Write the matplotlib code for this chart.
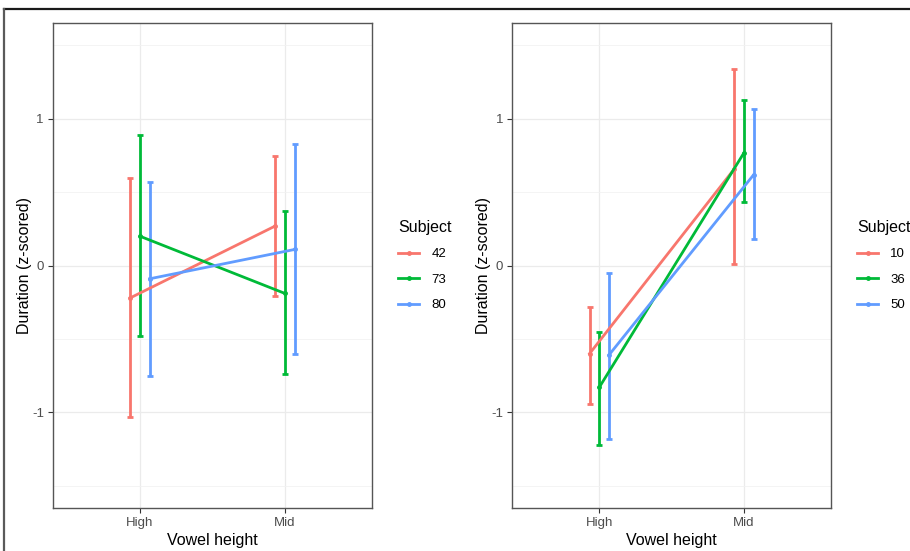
import matplotlib.pyplot as plt
from matplotlib.lines import Line2D
import numpy as np

plt.rcParams['font.family'] = ['Liberation Sans', 'DejaVu Sans']

# category axis
heights = ['High', 'Mid']

# left panel
subjects_left = ['42', '73', '80']
mean_left = {'42': [-0.22, 0.27], '73': [0.20, -0.19], '80': [-0.09, 0.11]}
low_left = {'42': [-1.03, -0.21], '73': [-0.48, -0.74], '80': [-0.75, -0.60]}
high_left = {'42': [0.60, 0.75], '73': [0.89, 0.37], '80': [0.57, 0.83]}

# right panel
subjects_right = ['10', '36', '50']
mean_right = {'10': [-0.60, 0.66], '36': [-0.83, 0.77], '50': [-0.61, 0.62]}
low_right = {'10': [-0.94, 0.01], '36': [-1.22, 0.43], '50': [-1.18, 0.18]}
high_right = {'10': [-0.28, 1.34], '36': [-0.45, 1.13], '50': [-0.05, 1.07]}

colors = ['#F8766D', '#00BA38', '#619CFF']
dodge = [-0.0667, 0.0, 0.0667]


def draw_panel(ax, subjects, means, lows, highs):
    x = np.arange(1, len(heights) + 1)
    for s, c, d in zip(subjects, colors, dodge):
        xs = x + d
        m = np.array(means[s])
        lo = np.array(lows[s])
        hi = np.array(highs[s])
        ax.errorbar(xs, m, yerr=[m - lo, hi - m], color=c, lw=2, capsize=2,
                    capthick=2, marker='o', markersize=2.5, label=s, zorder=3)
    ax.set_xlim(0.4, 2.6)
    ax.set_ylim(-1.65, 1.65)
    ax.set_xticks(x)
    ax.set_xticklabels(heights)
    ax.set_yticks([-1, 0, 1])
    ax.set_yticklabels(['-1', '0', '1'])
    ax.set_yticks([-1.5, -0.5, 0.5, 1.5], minor=True)
    ax.grid(True, which='major', color='#EBEBEB', lw=0.9, zorder=0)
    ax.grid(True, which='minor', axis='y', color='#F2F2F2', lw=0.6, zorder=0)
    ax.tick_params(which='minor', length=0)
    ax.tick_params(which='major', length=3.5, width=0.8, color='#333333',
                   labelsize=9.5, labelcolor='#4D4D4D', pad=3)
    for sp in ax.spines.values():
        sp.set_color('#555555')
        sp.set_linewidth(1.0)
    ax.set_axisbelow(True)
    ax.set_xlabel('Vowel height', fontsize=11.5, color='black', labelpad=3)
    ax.set_ylabel('Duration (z-scored)', fontsize=11.5, color='black', labelpad=0)
    handles = [Line2D([0], [0], color=c, lw=2, marker='o', markersize=2.5)
               for c in colors]
    leg = ax.legend(handles, subjects, title='Subject', loc='center left',
                    bbox_to_anchor=(1.045, 0.5), frameon=False, fontsize=9.5,
                    title_fontsize=11.5, handlelength=1.6, labelspacing=1.0,
                    handletextpad=0.9, alignment='left')
    for t in leg.get_texts():
        t.set_color('black')


fig = plt.figure(figsize=(9.1, 5.51), dpi=100)
ax1 = fig.add_axes([0.0582, 0.0786, 0.3506, 0.8788])
ax2 = fig.add_axes([0.5630, 0.0786, 0.3502, 0.8788])

draw_panel(ax1, subjects_left, mean_left, low_left, high_left)
draw_panel(ax2, subjects_right, mean_right, low_right, high_right)

# outer frame (top and left edges visible)
W, H = 910.0, 551.0
fig.add_artist(Line2D([4.3 / W, 1.0], [1 - 8.8 / H, 1 - 8.8 / H],
                      color='#1A1A1A', lw=1.6, transform=fig.transFigure))
fig.add_artist(Line2D([4.3 / W, 4.3 / W], [0.0, 1 - 8.8 / H],
                      color='#5A5A5A', lw=1.6, transform=fig.transFigure))

fig.savefig('out.png', dpi=100)
